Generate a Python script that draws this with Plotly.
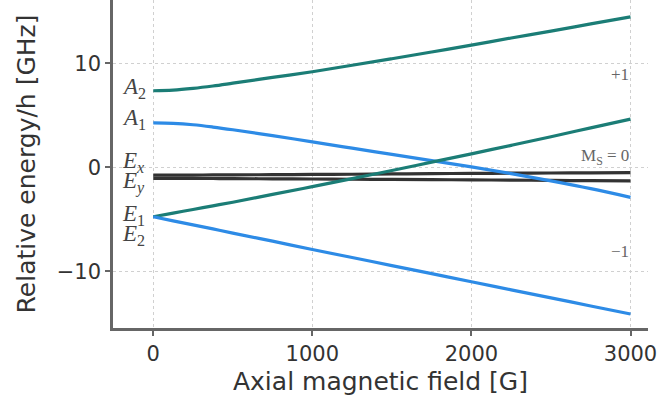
import plotly.graph_objects as go

# Axial magnetic field [G]
field = [0, 125, 250, 375, 500, 750, 1000, 1250, 1500, 1750, 2000, 2250, 2500, 2750, 3000]

# Relative energies [GHz]
A2 = [7.37, 7.43, 7.6, 7.83, 8.1, 8.65, 9.2, 9.82, 10.45, 11.1, 11.76, 12.45, 13.1, 13.8, 14.48]
A1 = [4.29, 4.24, 4.1, 3.88, 3.62, 3.05, 2.46, 1.85, 1.25, 0.65, 0.05, -0.6, -1.3, -2.05, -2.88]
E1 = [-4.75, -4.4, -4.05, -3.7, -3.35, -2.6, -1.85, -1.08, -0.3, 0.5, 1.3, 2.12, 2.95, 3.8, 4.64]
E2 = [-4.75, -5.14, -5.53, -5.92, -6.32, -7.1, -7.9, -8.67, -9.45, -10.22, -11.0, -11.78, -12.55, -13.33, -14.1]
Ex = [-0.75, -0.75, -0.74, -0.73, -0.72, -0.7, -0.68, -0.66, -0.63, -0.6, -0.58, -0.56, -0.54, -0.52, -0.5]
Ey = [-1.05, -1.05, -1.06, -1.07, -1.08, -1.1, -1.12, -1.14, -1.16, -1.18, -1.2, -1.23, -1.25, -1.28, -1.3]

left_labels = ["<i>A</i><sub>2</sub>", "<i>A</i><sub>1</sub>", "<i>E</i><sub><i>x</i></sub>",
               "<i>E</i><sub><i>y</i></sub>", "<i>E</i><sub>1</sub>", "<i>E</i><sub>2</sub>"]
left_label_y = [7.6, 4.7, 0.5, -1.5, -4.6, -6.5]
right_labels = ["+1", "M<sub>S</sub> = 0", "\u22121"]
right_label_y = [8.9, 1.0, -8.1]

teal = "#1b7d76"
blue = "#2d8be6"
dark = "#333333"

fig = go.Figure()
for ys in (Ex, Ey):
    fig.add_trace(go.Scatter(x=field, y=ys, mode="lines", line=dict(color=dark, width=3.2, shape="spline"),
                             showlegend=False, hoverinfo="skip"))
for ys, c in ((A2, teal), (A1, blue), (E1, teal), (E2, blue)):
    fig.add_trace(go.Scatter(x=field, y=ys, mode="lines", line=dict(color=c, width=3.2, shape="spline"),
                             showlegend=False, hoverinfo="skip"))

for t, y in zip(left_labels, left_label_y):
    fig.add_annotation(x=-212, y=y, text=t, showarrow=False, xanchor="left", yanchor="middle",
                       font=dict(family="Liberation Serif", size=23, color="#444444"))
for t, y in zip(right_labels, right_label_y):
    fig.add_annotation(x=3000, y=y, text=t, showarrow=False, xanchor="right", yanchor="middle",
                       font=dict(family="Liberation Serif", size=17, color="#666666"))

axis_common = dict(showline=True, linecolor="#666666", linewidth=2.5, ticks="outside", ticklen=5,
                   tickcolor="#666666", tickwidth=1.5, showgrid=True, gridcolor="#d0d0d0",
                   griddash="dot", gridwidth=1, zeroline=False,
                   tickfont=dict(family="DejaVu Sans", size=21, color="#333333"))

fig.update_layout(
    width=662, height=407,
    margin=dict(l=113, r=14, t=0, b=79),
    paper_bgcolor="white", plot_bgcolor="white",
    xaxis=dict(range=[-253, 3110], tickvals=[0, 1000, 2000, 3000],
               title=dict(text="Axial magnetic field [G]", standoff=8,
                          font=dict(family="DejaVu Sans", size=25, color="#333333")),
               **axis_common),
    yaxis=dict(range=[-15.45, 16.1], tickvals=[-10, 0, 10], ticktext=["\u221210", "0", "10"],
               title=dict(text="Relative energy/h [GHz]", standoff=14,
                          font=dict(family="DejaVu Sans", size=25, color="#333333")),
               **axis_common),
)

fig.write_html("out.html")
